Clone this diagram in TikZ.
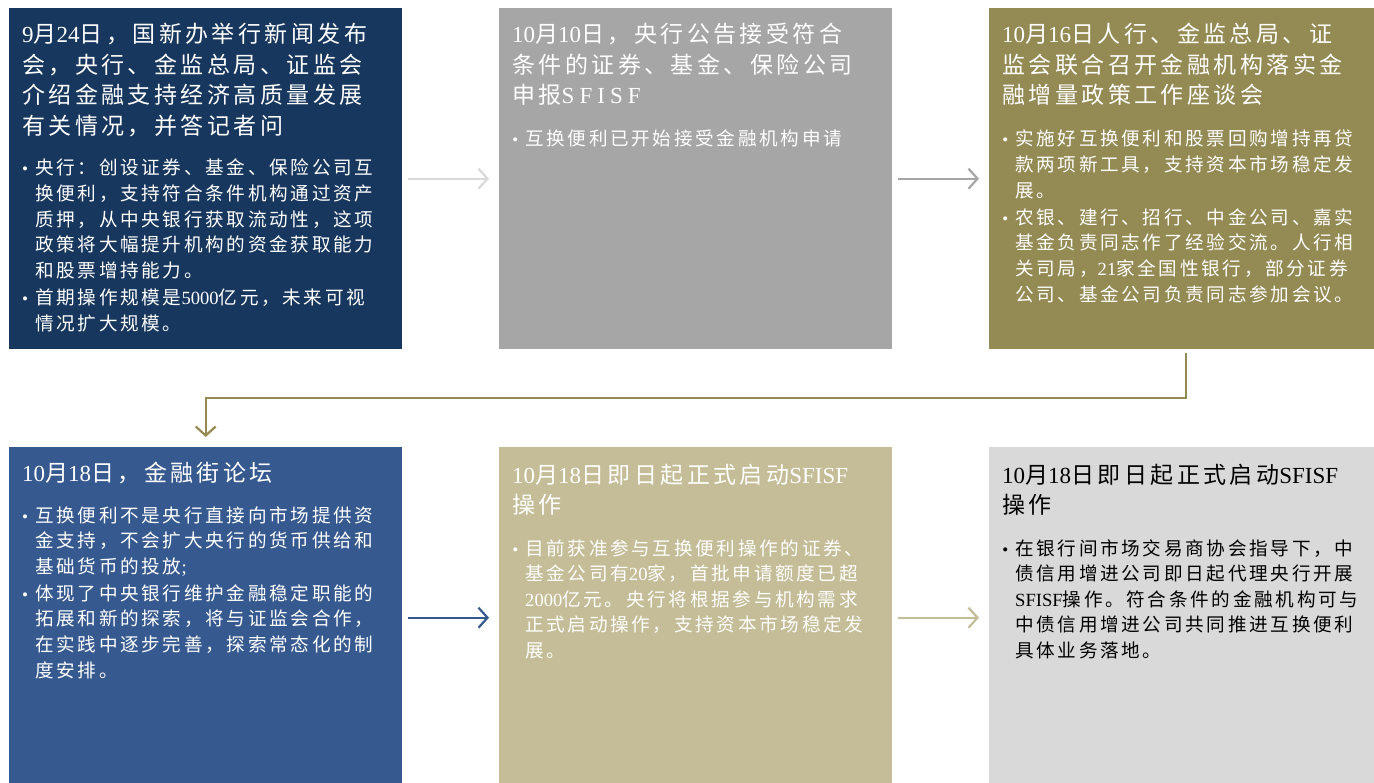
\documentclass[tikz,border=0pt]{standalone}
\usepackage{fontspec}
\usetikzlibrary{arrows.meta}
\newfontfamily\ttlcjk[LetterSpace=15]{Noto Sans CJK SC}
\newfontfamily\bdycjk[LetterSpace=14.5]{Noto Sans CJK SC}
\newfontfamily\latinf{Liberation Serif}
\newcommand\ltn[1]{{\latinf #1}}
\newcommand\bul{\leavevmode\llap{{\latinf\fontsize{17}{17}\selectfont\textbullet}\hspace{7pt}}}
\newcommand\nextbul{\par\vspace{1.5pt}\bul}
\definecolor{cA}{HTML}{17375E}
\definecolor{cB}{HTML}{A6A6A6}
\definecolor{cC}{HTML}{948A54}
\definecolor{cD}{HTML}{36598F}
\definecolor{cE}{HTML}{C4BD97}
\definecolor{cF}{HTML}{D9D9D9}
\tikzset{
  box/.style={rectangle, draw=none, anchor=north west, inner sep=0pt,
    minimum width=393pt, minimum height=341pt},
  ttl/.style={anchor=base west, inner sep=0pt, align=left, text width=420pt,
    font=\ttlcjk\fontsize{23}{30.4}\selectfont},
  bdy/.style={anchor=base west, inner sep=0pt, align=left, text width=400pt,
    font=\bdycjk\fontsize{18.6}{25.6}\selectfont},
  arr/.style={line width=2.2pt, -{Straight Barb[length=9pt,width=20pt]},
    shorten <=6pt, shorten >=10pt},
}
\begin{document}
\begin{tikzpicture}[x=1pt,y=-1pt]
\useasboundingbox (0,0) rectangle (1374,783);
\fill[white] (0,0) rectangle (1374,783);
% boxes
\node[box, fill=cA] (b1) at (9,8) {};
\node[box, fill=cB] (b2) at (499,8) {};
\node[box, fill=cC] (b3) at (989,8) {};
\node[box, fill=cD] (b4) at (9,447) {};
\node[box, fill=cE] (b5) at (499,447) {};
\node[box, fill=cF] (b6) at (989,447) {};
% box 1
\node[ttl, text=white] (t1) at (22,43) {\ltn{9}月\ltn{24}日，国新办举行新闻发布\\会，央行、金监总局、证监会\\介绍金融支持经济高质量发展\\有关情况，并答记者问};
\node[bdy, text=white] (d1) at (35,175) {\bul 央行：创设证券、基金、保险公司互\\换便利，支持符合条件机构通过资产\\质押，从中央银行获取流动性，这项\\政策将大幅提升机构的资金获取能力\\和股票增持能力。\nextbul 首期操作规模是\ltn{5000}亿元，未来可视\\情况扩大规模。};
% box 2
\node[ttl, text=white] (t2) at (512,43) {\ltn{10}月\ltn{10}日，央行公告接受符合\\条件的证券、基金、保险公司\\申报{\latinf\addfontfeature{LetterSpace=22}SFISF}};
\node[bdy, text=white] (d2) at (525,146) {\bul 互换便利已开始接受金融机构申请};
% box 3
\node[ttl, text=white] (t3) at (1002,43) {\ltn{10}月\ltn{16}日人行、金监总局、证\\监会联合召开金融机构落实金\\融增量政策工作座谈会};
\node[bdy, text=white] (d3) at (1015,146) {\bul 实施好互换便利和股票回购增持再贷\\款两项新工具，支持资本市场稳定发\\展。\nextbul 农银、建行、招行、中金公司、嘉实\\基金负责同志作了经验交流。人行相\\关司局，\ltn{21}家全国性银行，部分证券\\公司、基金公司负责同志参加会议。};
% box 4
\node[ttl, text=white] (t4) at (22,482) {\ltn{10}月\ltn{18}日，金融街论坛};
\node[bdy, text=white] (d4) at (35,522) {\bul 互换便利不是央行直接向市场提供资\\金支持，不会扩大央行的货币供给和\\基础货币的投放\ltn{;}\nextbul 体现了中央银行维护金融稳定职能的\\拓展和新的探索，将与证监会合作，\\在实践中逐步完善，探索常态化的制\\度安排。};
% box 5
\node[ttl, text=white] (t5) at (512,483) {\ltn{10}月\ltn{18}日即日起正式启动\ltn{SFISF}\\操作};
\node[bdy, text=white] (d5) at (525,555) {\bul 目前获准参与互换便利操作的证券、\\基金公司有\ltn{20}家，首批申请额度已超\\\ltn{2000}亿元。央行将根据参与机构需求\\正式启动操作，支持资本市场稳定发\\展。};
% box 6
\node[ttl, text=black] (t6) at (1002,483) {\ltn{10}月\ltn{18}日即日起正式启动\ltn{SFISF}\\操作};
\node[bdy, text=black] (d6) at (1015,555) {\bul 在银行间市场交易商协会指导下，中\\债信用增进公司即日起代理央行开展\\\ltn{SFISF}操作。符合条件的金融机构可与\\中债信用增进公司共同推进互换便利\\具体业务落地。};
% connectors
\draw[arr, draw=cF] (b1.east) -- (b2.west);
\draw[arr, draw=cB] (b2.east) -- (b3.west);
\draw[line width=2.2pt, draw=cC, -{Straight Barb[length=9pt,width=20pt]}]
  ([yshift=-4pt]b3.south) -- ++(0,45) -| ([yshift=10pt]b4.north);
\draw[arr, draw=cD] (b4.east) -- (b5.west);
\draw[arr, draw=cE] (b5.east) -- (b6.west);
\end{tikzpicture}
\end{document}
